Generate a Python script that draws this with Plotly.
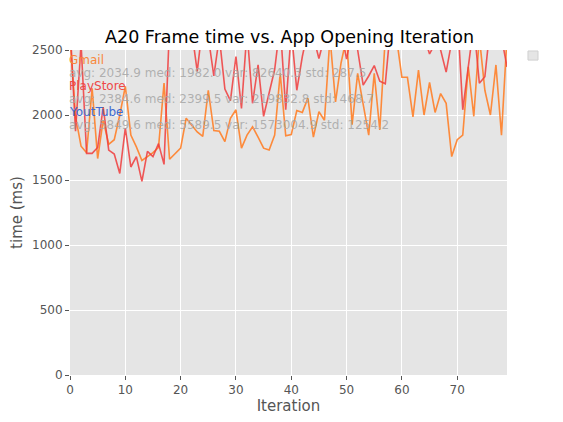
import plotly.graph_objects as go

# iteration index
iterations = list(range(80))

# frame times (ms), values above 2500 are cut by the axis
gmail = [2600, 1990, 1760, 1710, 2205, 1665, 1960, 1775, 1810, 2000,
         2220, 1845, 1755, 1650, 1680, 1710, 1750, 2245, 1660, 1705,
         1745, 1975, 1925, 1870, 1835, 2190, 1880, 1875, 1795, 1975,
         2040, 1745, 1845, 1910, 1830, 1745, 1730, 1845, 2320, 1840,
         1850, 2035, 2020, 2130, 1830, 2025, 1960, 2600, 2100, 2400,
         2600, 1925, 2320, 2065, 1845, 2320, 1885, 2600, 2600, 2600,
         2290, 2290, 1985, 2345, 2000, 2250, 2020, 2165, 2090, 1680,
         1810, 1845, 2370, 1990, 2600, 2190, 2000, 2385, 1845, 2600]

playstore = [2700, 1875, 2550, 1705, 1705, 1750, 2060, 1730, 1700, 1550,
             1900, 1600, 1680, 1490, 1720, 1680, 1780, 1620, 2700, 2800,
             2900, 2700, 2650, 2335, 2700, 2600, 2300, 2600, 2200, 2110,
             2450, 2050, 2650, 2090, 2385, 1990, 2170, 2350, 2700, 2040,
             2650, 2190, 2450, 2650, 2600, 2435, 2600, 2700, 2550, 2650,
             2430, 2650, 2500, 2230, 2300, 2380, 2260, 2240, 2700, 2800,
             2700, 2600, 2700, 2900, 2600, 2470, 2550, 2500, 2330, 2600,
             2800, 2040, 2370, 2700, 2245, 2295, 2700, 2800, 2600, 2370]

# name, colour and summary text for each app
apps = ['Gmail', 'PlayStore', 'YoutTube']
app_colors = ['#F8883C', '#EE4848', '#3F6AD0']
stats = ['avg: 2034.9 med: 1982.0 var: 82640.3 std: 287.5',
         'avg: 2384.6 med: 2399.5 var: 219832.8 std: 468.7',
         'avg: 5849.6 med: 5589.5 var: 1573004.9 std: 1254.2']

fig = go.Figure()
fig.add_trace(go.Scatter(x=iterations, y=gmail, mode='lines',
                         line=dict(color='rgba(255,128,40,0.9)', width=1.6),
                         showlegend=False))
fig.add_trace(go.Scatter(x=iterations, y=playstore, mode='lines',
                         line=dict(color='rgba(240,60,60,0.85)', width=1.6),
                         showlegend=False))

# labels + stats written in the top left of the axes
y_pos = 0.969
for name, col, st in zip(apps, app_colors, stats):
    fig.add_annotation(x=-0.006, y=y_pos, xref='paper', yref='paper', text=name,
                       showarrow=False, xanchor='left', yanchor='middle',
                       font=dict(color=col, size=12))
    fig.add_annotation(x=-0.006, y=y_pos - 0.04, xref='paper', yref='paper', text=st,
                       showarrow=False, xanchor='left', yanchor='middle',
                       font=dict(color='rgba(165,165,165,0.85)', size=12))
    y_pos -= 0.08

# empty legend box
fig.add_shape(type='rect', xref='paper', yref='paper',
              x0=1.048, x1=1.071, y0=0.969, y1=0.997,
              fillcolor='#E5E5E5', line=dict(color='#D0D0D0', width=1))

# page has an 8px body margin, so the margins are shifted by that much
fig.update_layout(
    width=563, height=422,
    margin=dict(l=62, r=64, t=42, b=55),
    title=dict(text='A20 Frame time vs. App Opening Iteration', x=0.5, xanchor='center',
               y=0.931, yanchor='middle', font=dict(size=17.5, color='black')),
    font=dict(family='DejaVu Sans', color='#555555'),
    plot_bgcolor='#E5E5E5',
    paper_bgcolor='white',
)

fig.update_xaxes(title_text='Iteration', range=[0, 79], tickvals=[0, 10, 20, 30, 40, 50, 60, 70],
                 showgrid=True, gridcolor='white', gridwidth=1, zeroline=False, automargin=False,
                 ticks='outside', ticklen=4, tickcolor='#555555',
                 tickfont=dict(size=12), title_font=dict(size=15), title_standoff=4)
fig.update_yaxes(title_text='time (ms)', range=[0, 2500], tickvals=[0, 500, 1000, 1500, 2000, 2500],
                 showgrid=True, gridcolor='white', gridwidth=1, zeroline=False, automargin=False,
                 ticks='outside', ticklen=4, tickcolor='#555555',
                 tickfont=dict(size=12), title_font=dict(size=15), title_standoff=6)

fig.write_html("out.html")
